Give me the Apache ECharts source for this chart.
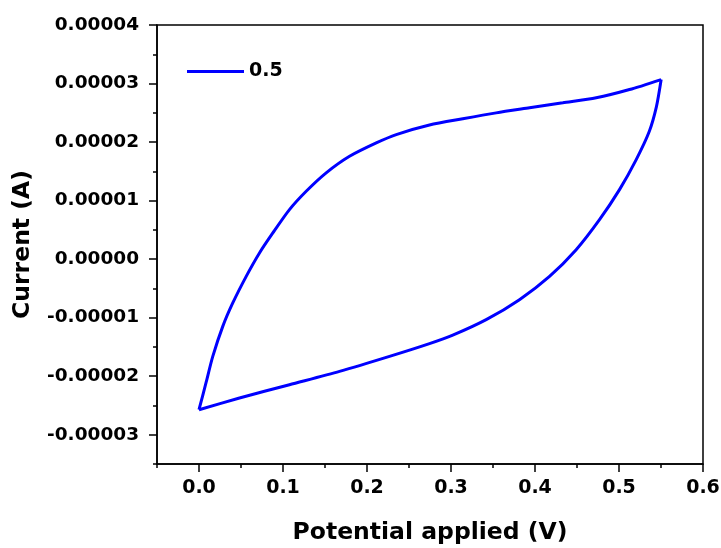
<!DOCTYPE html>
<html>
<head>
<meta charset="utf-8">
<title>Cyclic voltammogram</title>
<script src="https://cdn.jsdelivr.net/npm/echarts@6/dist/echarts.min.js"></script>
<style>
  html, body { margin: 0; padding: 0; background: #fff; }
  #chart { width: 721px; height: 548px; }
</style>
</head>
<body>
<div id="chart"></div>
<script>
// Scan rate shown in the legend
const seriesName = '0.5';

// Forward (anodic) sweep: potential (V) and current (A)
const potentialForward = [0.000, 0.0083, 0.0164, 0.0283, 0.0402, 0.0562, 0.0720, 0.0879, 0.1077, 0.1276, 0.1514,
  0.1792, 0.2110, 0.2348, 0.2744, 0.3140, 0.3538, 0.3935, 0.4331, 0.4729, 0.5125, 0.5502];
const currentForward = [-2.573e-5, -2.116e-5, -1.662e-5, -1.149e-5, -0.749e-5, -0.294e-5, 0.106e-5, 0.448e-5,
  0.846e-5, 1.159e-5, 1.474e-5, 1.757e-5, 1.986e-5, 2.128e-5, 2.291e-5, 2.398e-5, 2.499e-5, 2.585e-5,
  2.670e-5, 2.756e-5, 2.897e-5, 3.068e-5];

// Reverse (cathodic) sweep: potential (V) and current (A)
const potentialReverse = [0.5502, 0.5445, 0.5360, 0.5205, 0.5006, 0.4768, 0.4490, 0.4173, 0.3815, 0.3419, 0.3021,
  0.2744, 0.2268, 0.1673, 0.1077, 0.0482, 0.000];
const currentReverse = [3.068e-5, 2.600e-5, 2.180e-5, 1.701e-5, 1.188e-5, 0.675e-5, 0.162e-5, -0.294e-5,
  -0.692e-5, -1.034e-5, -1.299e-5, -1.444e-5, -1.662e-5, -1.918e-5, -2.145e-5, -2.373e-5, -2.573e-5];

// Axis ticks
const xMajorTicks = [0.0, 0.1, 0.2, 0.3, 0.4, 0.5, 0.6];
const xMinorTicks = [-0.05, 0.05, 0.15, 0.25, 0.35, 0.45, 0.55];
const yMajorTicks = [-0.00003, -0.00002, -0.00001, 0, 0.00001, 0.00002, 0.00003, 0.00004];
const yMinorTicks = [-0.000035, -0.000025, -0.000015, -0.000005, 0.000005, 0.000015, 0.000025, 0.000035];

const xRange = [-0.05, 0.6];
const yRange = [-0.000035, 0.00004];

const pairs = (xs, ys) => xs.map((x, i) => [x, ys[i]]);

const FONT = 'DejaVu Sans';
const ink = '#000';
const lineBlue = '#0000ff';

const chart = echarts.init(document.getElementById('chart'), null, { renderer: 'canvas' });

const majorX = {
  type: 'value', min: xRange[0], max: xRange[1], position: 'bottom', gridIndex: 0,
  axisLine: { show: true, onZero: false, lineStyle: { color: ink, width: 1.5 } },
  axisTick: { show: true, inside: false, length: 8, customValues: xMajorTicks, lineStyle: { color: ink, width: 1.5 } },
  axisLabel: {
    show: true, customValues: xMajorTicks, margin: 15,
    color: ink, fontFamily: FONT, fontWeight: 'bold', fontSize: 19,
    formatter: v => v.toFixed(1)
  },
  splitLine: { show: false },
  name: 'Potential applied (V)', nameLocation: 'middle', nameGap: 57,
  nameTextStyle: { color: ink, fontFamily: FONT, fontWeight: 'bold', fontSize: 23.5 }
};
const minorX = {
  type: 'value', min: xRange[0], max: xRange[1], position: 'bottom', gridIndex: 0,
  axisLine: { show: false, onZero: false },
  axisTick: { show: true, inside: false, length: 4, customValues: xMinorTicks, lineStyle: { color: ink, width: 1.5 } },
  axisLabel: { show: false },
  splitLine: { show: false }
};
const majorY = {
  type: 'value', min: yRange[0], max: yRange[1], position: 'left', gridIndex: 0,
  axisLine: { show: true, onZero: false, lineStyle: { color: ink, width: 1.5 } },
  axisTick: { show: true, inside: false, length: 8, customValues: yMajorTicks, lineStyle: { color: ink, width: 1.5 } },
  axisLabel: {
    show: true, customValues: yMajorTicks, margin: 18,
    color: ink, fontFamily: FONT, fontWeight: 'bold', fontSize: 18.5,
    formatter: v => (Math.abs(v) < 1e-12 ? 0 : v).toFixed(5)
  },
  splitLine: { show: false },
  name: 'Current (A)', nameLocation: 'middle', nameGap: 122,
  nameTextStyle: { color: ink, fontFamily: FONT, fontWeight: 'bold', fontSize: 23.5 }
};
const minorY = {
  type: 'value', min: yRange[0], max: yRange[1], position: 'left', gridIndex: 0,
  axisLine: { show: false, onZero: false },
  axisTick: { show: true, inside: false, length: 4, customValues: yMinorTicks, lineStyle: { color: ink, width: 1.5 } },
  axisLabel: { show: false },
  splitLine: { show: false }
};

const lineSeries = (data) => ({
  type: 'line', name: seriesName, xAxisIndex: 0, yAxisIndex: 0,
  data, symbol: 'none', showSymbol: false,
  smooth: 0.25,
  lineStyle: { color: lineBlue, width: 3 },
  itemStyle: { color: lineBlue },
  animation: false
});

chart.setOption({
  backgroundColor: '#fff',
  animation: false,
  grid: {
    left: 157, right: 18, top: 25, bottom: 84,
    outerBoundsMode: 'none', containLabel: false,
    show: true, borderColor: ink, borderWidth: 1.5, backgroundColor: 'transparent'
  },
  legend: {
    show: true,
    data: [{ name: seriesName, icon: 'rect' }],
    left: 187, top: 62, padding: 0, itemWidth: 57, itemHeight: 3, itemGap: 10,
    itemStyle: { color: lineBlue, borderWidth: 0 },
    textStyle: { color: ink, fontFamily: FONT, fontWeight: 'bold', fontSize: 19 }
  },
  xAxis: [majorX, minorX],
  yAxis: [majorY, minorY],
  series: [
    lineSeries(pairs(potentialForward, currentForward)),
    lineSeries(pairs(potentialReverse, currentReverse))
  ]
});
</script>
</body>
</html>
